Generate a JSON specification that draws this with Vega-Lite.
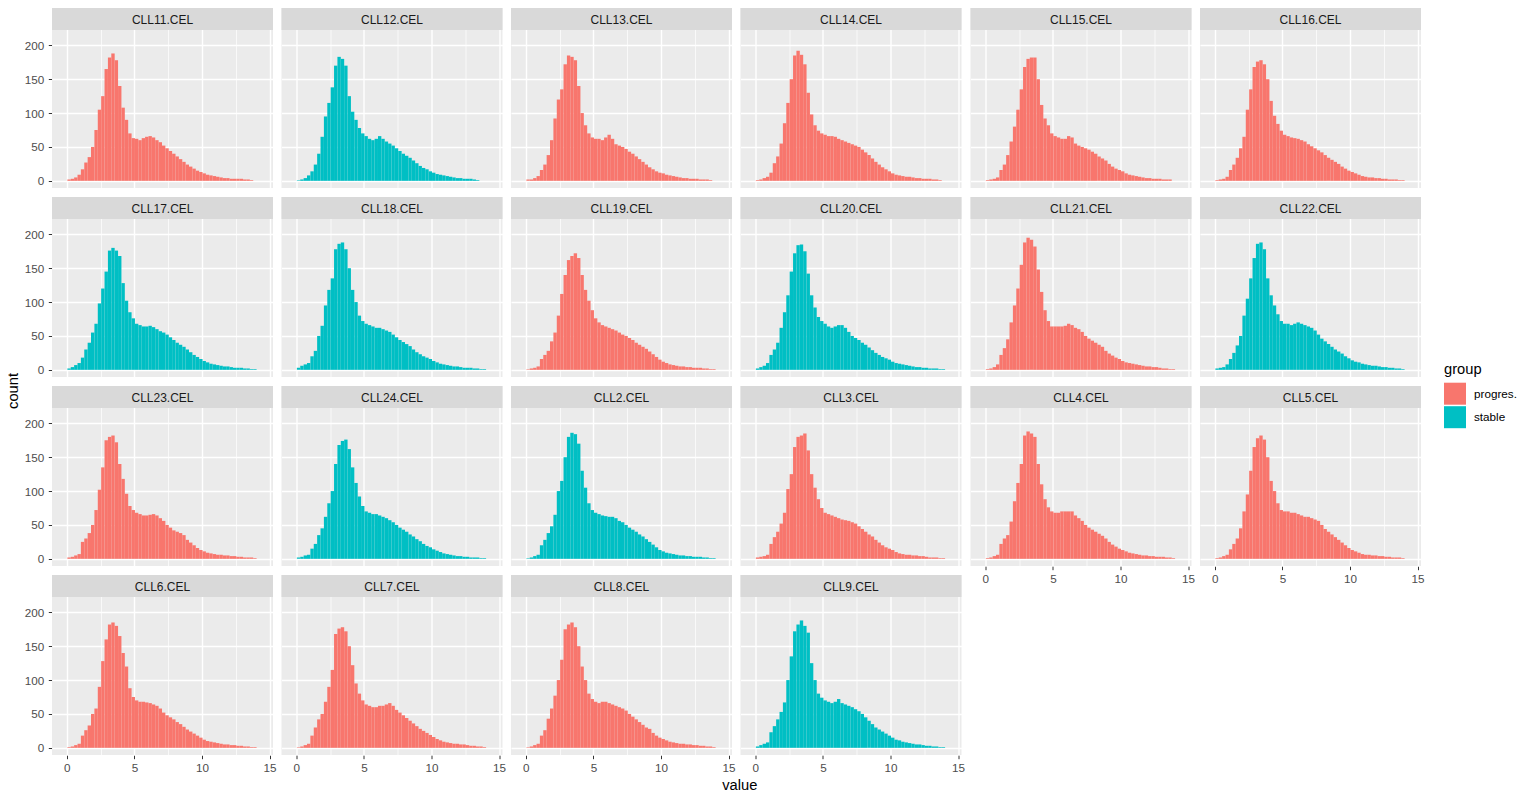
{
"$schema":"https://vega.github.io/schema/vega-lite/v6.json",
"padding":{"left":5,"top":8,"right":0,"bottom":0},
"title":{"text":"value","orient":"bottom","anchor":"middle","fontSize":14.7,"fontWeight":"normal","color":"#000000","font":"Liberation Sans","offset":4,"dx":-21.5},
"datasets":{
"samples":[{"k":11,"s":"CLL11.CEL","g":"progres."},{"k":12,"s":"CLL12.CEL","g":"stable"},{"k":13,"s":"CLL13.CEL","g":"progres."},{"k":14,"s":"CLL14.CEL","g":"progres."},{"k":15,"s":"CLL15.CEL","g":"progres."},{"k":16,"s":"CLL16.CEL","g":"progres."},{"k":17,"s":"CLL17.CEL","g":"stable"},{"k":18,"s":"CLL18.CEL","g":"stable"},{"k":19,"s":"CLL19.CEL","g":"progres."},{"k":20,"s":"CLL20.CEL","g":"stable"},{"k":21,"s":"CLL21.CEL","g":"progres."},{"k":22,"s":"CLL22.CEL","g":"stable"},{"k":23,"s":"CLL23.CEL","g":"progres."},{"k":24,"s":"CLL24.CEL","g":"stable"},{"k":2,"s":"CLL2.CEL","g":"stable"},{"k":3,"s":"CLL3.CEL","g":"progres."},{"k":4,"s":"CLL4.CEL","g":"progres."},{"k":5,"s":"CLL5.CEL","g":"progres."},{"k":6,"s":"CLL6.CEL","g":"progres."},{"k":7,"s":"CLL7.CEL","g":"progres."},{"k":8,"s":"CLL8.CEL","g":"progres."},{"k":9,"s":"CLL9.CEL","g":"stable"}],
"h":[
{"k":11,"x":0,"n":2},{"k":11,"x":0.25,"n":3},{"k":11,"x":0.5,"n":5},{"k":11,"x":0.75,"n":9},{"k":11,"x":1,"n":17},{"k":11,"x":1.25,"n":27},{"k":11,"x":1.5,"n":35},{"k":11,"x":1.75,"n":50},{"k":11,"x":2,"n":75},{"k":11,"x":2.25,"n":105},{"k":11,"x":2.5,"n":125},{"k":11,"x":2.75,"n":165},{"k":11,"x":3,"n":182},{"k":11,"x":3.25,"n":188},{"k":11,"x":3.5,"n":178},{"k":11,"x":3.75,"n":140},{"k":11,"x":4,"n":108},{"k":11,"x":4.25,"n":90},{"k":11,"x":4.5,"n":70},{"k":11,"x":4.75,"n":63},{"k":11,"x":5,"n":62},{"k":11,"x":5.25,"n":60},{"k":11,"x":5.5,"n":63},{"k":11,"x":5.75,"n":65},{"k":11,"x":6,"n":66},{"k":11,"x":6.25,"n":64},{"k":11,"x":6.5,"n":60},{"k":11,"x":6.75,"n":57},{"k":11,"x":7,"n":52},{"k":11,"x":7.25,"n":48},{"k":11,"x":7.5,"n":44},{"k":11,"x":7.75,"n":40},{"k":11,"x":8,"n":36},{"k":11,"x":8.25,"n":32},{"k":11,"x":8.5,"n":28},{"k":11,"x":8.75,"n":24},{"k":11,"x":9,"n":21},{"k":11,"x":9.25,"n":18},{"k":11,"x":9.5,"n":15},{"k":11,"x":9.75,"n":13},{"k":11,"x":10,"n":11},{"k":11,"x":10.25,"n":9},{"k":11,"x":10.5,"n":8},{"k":11,"x":10.75,"n":7},{"k":11,"x":11,"n":6},{"k":11,"x":11.25,"n":5},{"k":11,"x":11.5,"n":4},{"k":11,"x":11.75,"n":4},{"k":11,"x":12,"n":3},{"k":11,"x":12.25,"n":3},{"k":11,"x":12.5,"n":3},{"k":11,"x":12.75,"n":3},{"k":11,"x":13,"n":2},{"k":11,"x":13.25,"n":2},{"k":11,"x":13.5,"n":1},
{"k":12,"x":0,"n":1},{"k":12,"x":0.25,"n":2},{"k":12,"x":0.5,"n":4},{"k":12,"x":0.75,"n":8},{"k":12,"x":1,"n":14},{"k":12,"x":1.25,"n":24},{"k":12,"x":1.5,"n":40},{"k":12,"x":1.75,"n":65},{"k":12,"x":2,"n":95},{"k":12,"x":2.25,"n":115},{"k":12,"x":2.5,"n":138},{"k":12,"x":2.75,"n":170},{"k":12,"x":3,"n":183},{"k":12,"x":3.25,"n":180},{"k":12,"x":3.5,"n":170},{"k":12,"x":3.75,"n":125},{"k":12,"x":4,"n":102},{"k":12,"x":4.25,"n":90},{"k":12,"x":4.5,"n":78},{"k":12,"x":4.75,"n":70},{"k":12,"x":5,"n":66},{"k":12,"x":5.25,"n":62},{"k":12,"x":5.5,"n":60},{"k":12,"x":5.75,"n":62},{"k":12,"x":6,"n":66},{"k":12,"x":6.25,"n":62},{"k":12,"x":6.5,"n":58},{"k":12,"x":6.75,"n":55},{"k":12,"x":7,"n":52},{"k":12,"x":7.25,"n":48},{"k":12,"x":7.5,"n":44},{"k":12,"x":7.75,"n":40},{"k":12,"x":8,"n":37},{"k":12,"x":8.25,"n":34},{"k":12,"x":8.5,"n":30},{"k":12,"x":8.75,"n":26},{"k":12,"x":9,"n":22},{"k":12,"x":9.25,"n":19},{"k":12,"x":9.5,"n":17},{"k":12,"x":9.75,"n":14},{"k":12,"x":10,"n":12},{"k":12,"x":10.25,"n":10},{"k":12,"x":10.5,"n":9},{"k":12,"x":10.75,"n":8},{"k":12,"x":11,"n":7},{"k":12,"x":11.25,"n":6},{"k":12,"x":11.5,"n":5},{"k":12,"x":11.75,"n":4},{"k":12,"x":12,"n":4},{"k":12,"x":12.25,"n":3},{"k":12,"x":12.5,"n":3},{"k":12,"x":12.75,"n":3},{"k":12,"x":13,"n":2},{"k":12,"x":13.25,"n":1},
{"k":13,"x":0,"n":2},{"k":13,"x":0.25,"n":2},{"k":13,"x":0.5,"n":4},{"k":13,"x":0.75,"n":7},{"k":13,"x":1,"n":16},{"k":13,"x":1.25,"n":24},{"k":13,"x":1.5,"n":38},{"k":13,"x":1.75,"n":60},{"k":13,"x":2,"n":92},{"k":13,"x":2.25,"n":120},{"k":13,"x":2.5,"n":135},{"k":13,"x":2.75,"n":172},{"k":13,"x":3,"n":185},{"k":13,"x":3.25,"n":183},{"k":13,"x":3.5,"n":178},{"k":13,"x":3.75,"n":140},{"k":13,"x":4,"n":100},{"k":13,"x":4.25,"n":82},{"k":13,"x":4.5,"n":70},{"k":13,"x":4.75,"n":64},{"k":13,"x":5,"n":62},{"k":13,"x":5.25,"n":62},{"k":13,"x":5.5,"n":60},{"k":13,"x":5.75,"n":64},{"k":13,"x":6,"n":68},{"k":13,"x":6.25,"n":62},{"k":13,"x":6.5,"n":54},{"k":13,"x":6.75,"n":52},{"k":13,"x":7,"n":50},{"k":13,"x":7.25,"n":47},{"k":13,"x":7.5,"n":43},{"k":13,"x":7.75,"n":40},{"k":13,"x":8,"n":36},{"k":13,"x":8.25,"n":32},{"k":13,"x":8.5,"n":28},{"k":13,"x":8.75,"n":24},{"k":13,"x":9,"n":20},{"k":13,"x":9.25,"n":17},{"k":13,"x":9.5,"n":14},{"k":13,"x":9.75,"n":12},{"k":13,"x":10,"n":11},{"k":13,"x":10.25,"n":9},{"k":13,"x":10.5,"n":8},{"k":13,"x":10.75,"n":7},{"k":13,"x":11,"n":6},{"k":13,"x":11.25,"n":5},{"k":13,"x":11.5,"n":4},{"k":13,"x":11.75,"n":4},{"k":13,"x":12,"n":3},{"k":13,"x":12.25,"n":3},{"k":13,"x":12.5,"n":3},{"k":13,"x":12.75,"n":2},{"k":13,"x":13,"n":2},{"k":13,"x":13.25,"n":2},{"k":13,"x":13.5,"n":1},
{"k":14,"x":0,"n":1},{"k":14,"x":0.25,"n":2},{"k":14,"x":0.5,"n":4},{"k":14,"x":0.75,"n":6},{"k":14,"x":1,"n":12},{"k":14,"x":1.25,"n":26},{"k":14,"x":1.5,"n":36},{"k":14,"x":1.75,"n":55},{"k":14,"x":2,"n":85},{"k":14,"x":2.25,"n":115},{"k":14,"x":2.5,"n":150},{"k":14,"x":2.75,"n":185},{"k":14,"x":3,"n":192},{"k":14,"x":3.25,"n":186},{"k":14,"x":3.5,"n":172},{"k":14,"x":3.75,"n":130},{"k":14,"x":4,"n":98},{"k":14,"x":4.25,"n":82},{"k":14,"x":4.5,"n":74},{"k":14,"x":4.75,"n":70},{"k":14,"x":5,"n":68},{"k":14,"x":5.25,"n":66},{"k":14,"x":5.5,"n":66},{"k":14,"x":5.75,"n":65},{"k":14,"x":6,"n":62},{"k":14,"x":6.25,"n":60},{"k":14,"x":6.5,"n":58},{"k":14,"x":6.75,"n":56},{"k":14,"x":7,"n":54},{"k":14,"x":7.25,"n":52},{"k":14,"x":7.5,"n":50},{"k":14,"x":7.75,"n":46},{"k":14,"x":8,"n":42},{"k":14,"x":8.25,"n":38},{"k":14,"x":8.5,"n":33},{"k":14,"x":8.75,"n":28},{"k":14,"x":9,"n":24},{"k":14,"x":9.25,"n":20},{"k":14,"x":9.5,"n":17},{"k":14,"x":9.75,"n":14},{"k":14,"x":10,"n":11},{"k":14,"x":10.25,"n":9},{"k":14,"x":10.5,"n":8},{"k":14,"x":10.75,"n":7},{"k":14,"x":11,"n":6},{"k":14,"x":11.25,"n":6},{"k":14,"x":11.5,"n":5},{"k":14,"x":11.75,"n":4},{"k":14,"x":12,"n":4},{"k":14,"x":12.25,"n":3},{"k":14,"x":12.5,"n":3},{"k":14,"x":12.75,"n":3},{"k":14,"x":13,"n":2},{"k":14,"x":13.25,"n":2},{"k":14,"x":13.5,"n":1},
{"k":15,"x":0,"n":1},{"k":15,"x":0.25,"n":2},{"k":15,"x":0.5,"n":3},{"k":15,"x":0.75,"n":5},{"k":15,"x":1,"n":16},{"k":15,"x":1.25,"n":24},{"k":15,"x":1.5,"n":38},{"k":15,"x":1.75,"n":58},{"k":15,"x":2,"n":80},{"k":15,"x":2.25,"n":105},{"k":15,"x":2.5,"n":135},{"k":15,"x":2.75,"n":168},{"k":15,"x":3,"n":180},{"k":15,"x":3.25,"n":182},{"k":15,"x":3.5,"n":182},{"k":15,"x":3.75,"n":150},{"k":15,"x":4,"n":112},{"k":15,"x":4.25,"n":92},{"k":15,"x":4.5,"n":82},{"k":15,"x":4.75,"n":70},{"k":15,"x":5,"n":66},{"k":15,"x":5.25,"n":64},{"k":15,"x":5.5,"n":62},{"k":15,"x":5.75,"n":62},{"k":15,"x":6,"n":66},{"k":15,"x":6.25,"n":64},{"k":15,"x":6.5,"n":55},{"k":15,"x":6.75,"n":52},{"k":15,"x":7,"n":50},{"k":15,"x":7.25,"n":48},{"k":15,"x":7.5,"n":46},{"k":15,"x":7.75,"n":43},{"k":15,"x":8,"n":40},{"k":15,"x":8.25,"n":36},{"k":15,"x":8.5,"n":33},{"k":15,"x":8.75,"n":30},{"k":15,"x":9,"n":25},{"k":15,"x":9.25,"n":21},{"k":15,"x":9.5,"n":18},{"k":15,"x":9.75,"n":16},{"k":15,"x":10,"n":14},{"k":15,"x":10.25,"n":11},{"k":15,"x":10.5,"n":9},{"k":15,"x":10.75,"n":8},{"k":15,"x":11,"n":7},{"k":15,"x":11.25,"n":6},{"k":15,"x":11.5,"n":5},{"k":15,"x":11.75,"n":4},{"k":15,"x":12,"n":4},{"k":15,"x":12.25,"n":3},{"k":15,"x":12.5,"n":3},{"k":15,"x":12.75,"n":3},{"k":15,"x":13,"n":2},{"k":15,"x":13.25,"n":2},{"k":15,"x":13.5,"n":2},
{"k":16,"x":0,"n":1},{"k":16,"x":0.25,"n":2},{"k":16,"x":0.5,"n":3},{"k":16,"x":0.75,"n":6},{"k":16,"x":1,"n":16},{"k":16,"x":1.25,"n":24},{"k":16,"x":1.5,"n":34},{"k":16,"x":1.75,"n":48},{"k":16,"x":2,"n":65},{"k":16,"x":2.25,"n":105},{"k":16,"x":2.5,"n":135},{"k":16,"x":2.75,"n":168},{"k":16,"x":3,"n":176},{"k":16,"x":3.25,"n":178},{"k":16,"x":3.5,"n":172},{"k":16,"x":3.75,"n":150},{"k":16,"x":4,"n":118},{"k":16,"x":4.25,"n":96},{"k":16,"x":4.5,"n":84},{"k":16,"x":4.75,"n":74},{"k":16,"x":5,"n":68},{"k":16,"x":5.25,"n":66},{"k":16,"x":5.5,"n":64},{"k":16,"x":5.75,"n":63},{"k":16,"x":6,"n":62},{"k":16,"x":6.25,"n":60},{"k":16,"x":6.5,"n":58},{"k":16,"x":6.75,"n":54},{"k":16,"x":7,"n":51},{"k":16,"x":7.25,"n":48},{"k":16,"x":7.5,"n":45},{"k":16,"x":7.75,"n":42},{"k":16,"x":8,"n":38},{"k":16,"x":8.25,"n":34},{"k":16,"x":8.5,"n":31},{"k":16,"x":8.75,"n":28},{"k":16,"x":9,"n":25},{"k":16,"x":9.25,"n":21},{"k":16,"x":9.5,"n":18},{"k":16,"x":9.75,"n":15},{"k":16,"x":10,"n":13},{"k":16,"x":10.25,"n":11},{"k":16,"x":10.5,"n":9},{"k":16,"x":10.75,"n":7},{"k":16,"x":11,"n":6},{"k":16,"x":11.25,"n":5},{"k":16,"x":11.5,"n":5},{"k":16,"x":11.75,"n":4},{"k":16,"x":12,"n":4},{"k":16,"x":12.25,"n":3},{"k":16,"x":12.5,"n":3},{"k":16,"x":12.75,"n":2},{"k":16,"x":13,"n":2},{"k":16,"x":13.25,"n":2},{"k":16,"x":13.5,"n":1},{"k":16,"x":13.75,"n":1},
{"k":17,"x":0,"n":2},{"k":17,"x":0.25,"n":4},{"k":17,"x":0.5,"n":7},{"k":17,"x":0.75,"n":10},{"k":17,"x":1,"n":18},{"k":17,"x":1.25,"n":30},{"k":17,"x":1.5,"n":40},{"k":17,"x":1.75,"n":55},{"k":17,"x":2,"n":68},{"k":17,"x":2.25,"n":98},{"k":17,"x":2.5,"n":120},{"k":17,"x":2.75,"n":145},{"k":17,"x":3,"n":176},{"k":17,"x":3.25,"n":180},{"k":17,"x":3.5,"n":176},{"k":17,"x":3.75,"n":168},{"k":17,"x":4,"n":128},{"k":17,"x":4.25,"n":102},{"k":17,"x":4.5,"n":85},{"k":17,"x":4.75,"n":76},{"k":17,"x":5,"n":68},{"k":17,"x":5.25,"n":66},{"k":17,"x":5.5,"n":64},{"k":17,"x":5.75,"n":64},{"k":17,"x":6,"n":65},{"k":17,"x":6.25,"n":63},{"k":17,"x":6.5,"n":60},{"k":17,"x":6.75,"n":57},{"k":17,"x":7,"n":55},{"k":17,"x":7.25,"n":52},{"k":17,"x":7.5,"n":48},{"k":17,"x":7.75,"n":44},{"k":17,"x":8,"n":40},{"k":17,"x":8.25,"n":37},{"k":17,"x":8.5,"n":34},{"k":17,"x":8.75,"n":30},{"k":17,"x":9,"n":26},{"k":17,"x":9.25,"n":22},{"k":17,"x":9.5,"n":19},{"k":17,"x":9.75,"n":16},{"k":17,"x":10,"n":13},{"k":17,"x":10.25,"n":11},{"k":17,"x":10.5,"n":9},{"k":17,"x":10.75,"n":8},{"k":17,"x":11,"n":7},{"k":17,"x":11.25,"n":6},{"k":17,"x":11.5,"n":5},{"k":17,"x":11.75,"n":5},{"k":17,"x":12,"n":4},{"k":17,"x":12.25,"n":3},{"k":17,"x":12.5,"n":3},{"k":17,"x":12.75,"n":3},{"k":17,"x":13,"n":2},{"k":17,"x":13.25,"n":2},{"k":17,"x":13.5,"n":1},{"k":17,"x":13.75,"n":1},
{"k":18,"x":0,"n":3},{"k":18,"x":0.25,"n":6},{"k":18,"x":0.5,"n":8},{"k":18,"x":0.75,"n":10},{"k":18,"x":1,"n":20},{"k":18,"x":1.25,"n":28},{"k":18,"x":1.5,"n":50},{"k":18,"x":1.75,"n":65},{"k":18,"x":2,"n":95},{"k":18,"x":2.25,"n":118},{"k":18,"x":2.5,"n":135},{"k":18,"x":2.75,"n":178},{"k":18,"x":3,"n":186},{"k":18,"x":3.25,"n":188},{"k":18,"x":3.5,"n":178},{"k":18,"x":3.75,"n":150},{"k":18,"x":4,"n":118},{"k":18,"x":4.25,"n":100},{"k":18,"x":4.5,"n":80},{"k":18,"x":4.75,"n":72},{"k":18,"x":5,"n":68},{"k":18,"x":5.25,"n":66},{"k":18,"x":5.5,"n":64},{"k":18,"x":5.75,"n":62},{"k":18,"x":6,"n":62},{"k":18,"x":6.25,"n":60},{"k":18,"x":6.5,"n":58},{"k":18,"x":6.75,"n":56},{"k":18,"x":7,"n":52},{"k":18,"x":7.25,"n":48},{"k":18,"x":7.5,"n":44},{"k":18,"x":7.75,"n":41},{"k":18,"x":8,"n":38},{"k":18,"x":8.25,"n":35},{"k":18,"x":8.5,"n":30},{"k":18,"x":8.75,"n":26},{"k":18,"x":9,"n":23},{"k":18,"x":9.25,"n":20},{"k":18,"x":9.5,"n":18},{"k":18,"x":9.75,"n":16},{"k":18,"x":10,"n":13},{"k":18,"x":10.25,"n":11},{"k":18,"x":10.5,"n":9},{"k":18,"x":10.75,"n":8},{"k":18,"x":11,"n":7},{"k":18,"x":11.25,"n":6},{"k":18,"x":11.5,"n":5},{"k":18,"x":11.75,"n":5},{"k":18,"x":12,"n":4},{"k":18,"x":12.25,"n":3},{"k":18,"x":12.5,"n":3},{"k":18,"x":12.75,"n":3},{"k":18,"x":13,"n":2},{"k":18,"x":13.25,"n":2},{"k":18,"x":13.5,"n":1},{"k":18,"x":13.75,"n":1},
{"k":19,"x":0,"n":1},{"k":19,"x":0.25,"n":2},{"k":19,"x":0.5,"n":3},{"k":19,"x":0.75,"n":5},{"k":19,"x":1,"n":16},{"k":19,"x":1.25,"n":22},{"k":19,"x":1.5,"n":28},{"k":19,"x":1.75,"n":42},{"k":19,"x":2,"n":55},{"k":19,"x":2.25,"n":80},{"k":19,"x":2.5,"n":112},{"k":19,"x":2.75,"n":140},{"k":19,"x":3,"n":162},{"k":19,"x":3.25,"n":168},{"k":19,"x":3.5,"n":172},{"k":19,"x":3.75,"n":165},{"k":19,"x":4,"n":140},{"k":19,"x":4.25,"n":118},{"k":19,"x":4.5,"n":102},{"k":19,"x":4.75,"n":88},{"k":19,"x":5,"n":76},{"k":19,"x":5.25,"n":70},{"k":19,"x":5.5,"n":66},{"k":19,"x":5.75,"n":64},{"k":19,"x":6,"n":62},{"k":19,"x":6.25,"n":60},{"k":19,"x":6.5,"n":58},{"k":19,"x":6.75,"n":55},{"k":19,"x":7,"n":52},{"k":19,"x":7.25,"n":50},{"k":19,"x":7.5,"n":47},{"k":19,"x":7.75,"n":44},{"k":19,"x":8,"n":40},{"k":19,"x":8.25,"n":37},{"k":19,"x":8.5,"n":34},{"k":19,"x":8.75,"n":31},{"k":19,"x":9,"n":27},{"k":19,"x":9.25,"n":23},{"k":19,"x":9.5,"n":19},{"k":19,"x":9.75,"n":15},{"k":19,"x":10,"n":12},{"k":19,"x":10.25,"n":10},{"k":19,"x":10.5,"n":8},{"k":19,"x":10.75,"n":7},{"k":19,"x":11,"n":6},{"k":19,"x":11.25,"n":5},{"k":19,"x":11.5,"n":5},{"k":19,"x":11.75,"n":4},{"k":19,"x":12,"n":4},{"k":19,"x":12.25,"n":3},{"k":19,"x":12.5,"n":3},{"k":19,"x":12.75,"n":3},{"k":19,"x":13,"n":2},{"k":19,"x":13.25,"n":2},{"k":19,"x":13.5,"n":1},{"k":19,"x":13.75,"n":1},
{"k":20,"x":0,"n":2},{"k":20,"x":0.25,"n":4},{"k":20,"x":0.5,"n":6},{"k":20,"x":0.75,"n":10},{"k":20,"x":1,"n":22},{"k":20,"x":1.25,"n":30},{"k":20,"x":1.5,"n":40},{"k":20,"x":1.75,"n":62},{"k":20,"x":2,"n":85},{"k":20,"x":2.25,"n":110},{"k":20,"x":2.5,"n":145},{"k":20,"x":2.75,"n":172},{"k":20,"x":3,"n":184},{"k":20,"x":3.25,"n":185},{"k":20,"x":3.5,"n":175},{"k":20,"x":3.75,"n":142},{"k":20,"x":4,"n":110},{"k":20,"x":4.25,"n":92},{"k":20,"x":4.5,"n":78},{"k":20,"x":4.75,"n":72},{"k":20,"x":5,"n":68},{"k":20,"x":5.25,"n":64},{"k":20,"x":5.5,"n":62},{"k":20,"x":5.75,"n":64},{"k":20,"x":6,"n":66},{"k":20,"x":6.25,"n":66},{"k":20,"x":6.5,"n":62},{"k":20,"x":6.75,"n":56},{"k":20,"x":7,"n":50},{"k":20,"x":7.25,"n":47},{"k":20,"x":7.5,"n":44},{"k":20,"x":7.75,"n":40},{"k":20,"x":8,"n":37},{"k":20,"x":8.25,"n":33},{"k":20,"x":8.5,"n":29},{"k":20,"x":8.75,"n":25},{"k":20,"x":9,"n":22},{"k":20,"x":9.25,"n":19},{"k":20,"x":9.5,"n":17},{"k":20,"x":9.75,"n":15},{"k":20,"x":10,"n":12},{"k":20,"x":10.25,"n":10},{"k":20,"x":10.5,"n":9},{"k":20,"x":10.75,"n":8},{"k":20,"x":11,"n":7},{"k":20,"x":11.25,"n":6},{"k":20,"x":11.5,"n":5},{"k":20,"x":11.75,"n":4},{"k":20,"x":12,"n":4},{"k":20,"x":12.25,"n":3},{"k":20,"x":12.5,"n":3},{"k":20,"x":12.75,"n":2},{"k":20,"x":13,"n":2},{"k":20,"x":13.25,"n":2},{"k":20,"x":13.5,"n":1},{"k":20,"x":13.75,"n":1},
{"k":21,"x":0,"n":1},{"k":21,"x":0.25,"n":2},{"k":21,"x":0.5,"n":4},{"k":21,"x":0.75,"n":8},{"k":21,"x":1,"n":22},{"k":21,"x":1.25,"n":32},{"k":21,"x":1.5,"n":45},{"k":21,"x":1.75,"n":70},{"k":21,"x":2,"n":95},{"k":21,"x":2.25,"n":120},{"k":21,"x":2.5,"n":155},{"k":21,"x":2.75,"n":188},{"k":21,"x":3,"n":195},{"k":21,"x":3.25,"n":192},{"k":21,"x":3.5,"n":182},{"k":21,"x":3.75,"n":148},{"k":21,"x":4,"n":115},{"k":21,"x":4.25,"n":88},{"k":21,"x":4.5,"n":72},{"k":21,"x":4.75,"n":64},{"k":21,"x":5,"n":64},{"k":21,"x":5.25,"n":64},{"k":21,"x":5.5,"n":64},{"k":21,"x":5.75,"n":65},{"k":21,"x":6,"n":68},{"k":21,"x":6.25,"n":66},{"k":21,"x":6.5,"n":62},{"k":21,"x":6.75,"n":60},{"k":21,"x":7,"n":56},{"k":21,"x":7.25,"n":50},{"k":21,"x":7.5,"n":46},{"k":21,"x":7.75,"n":43},{"k":21,"x":8,"n":40},{"k":21,"x":8.25,"n":37},{"k":21,"x":8.5,"n":34},{"k":21,"x":8.75,"n":28},{"k":21,"x":9,"n":24},{"k":21,"x":9.25,"n":21},{"k":21,"x":9.5,"n":18},{"k":21,"x":9.75,"n":16},{"k":21,"x":10,"n":13},{"k":21,"x":10.25,"n":11},{"k":21,"x":10.5,"n":10},{"k":21,"x":10.75,"n":9},{"k":21,"x":11,"n":8},{"k":21,"x":11.25,"n":7},{"k":21,"x":11.5,"n":6},{"k":21,"x":11.75,"n":5},{"k":21,"x":12,"n":5},{"k":21,"x":12.25,"n":4},{"k":21,"x":12.5,"n":4},{"k":21,"x":12.75,"n":3},{"k":21,"x":13,"n":2},{"k":21,"x":13.25,"n":2},{"k":21,"x":13.5,"n":1},{"k":21,"x":13.75,"n":1},
{"k":22,"x":0,"n":2},{"k":22,"x":0.25,"n":3},{"k":22,"x":0.5,"n":4},{"k":22,"x":0.75,"n":8},{"k":22,"x":1,"n":16},{"k":22,"x":1.25,"n":25},{"k":22,"x":1.5,"n":36},{"k":22,"x":1.75,"n":50},{"k":22,"x":2,"n":80},{"k":22,"x":2.25,"n":105},{"k":22,"x":2.5,"n":135},{"k":22,"x":2.75,"n":165},{"k":22,"x":3,"n":186},{"k":22,"x":3.25,"n":188},{"k":22,"x":3.5,"n":178},{"k":22,"x":3.75,"n":135},{"k":22,"x":4,"n":110},{"k":22,"x":4.25,"n":95},{"k":22,"x":4.5,"n":82},{"k":22,"x":4.75,"n":72},{"k":22,"x":5,"n":68},{"k":22,"x":5.25,"n":68},{"k":22,"x":5.5,"n":66},{"k":22,"x":5.75,"n":68},{"k":22,"x":6,"n":70},{"k":22,"x":6.25,"n":68},{"k":22,"x":6.5,"n":66},{"k":22,"x":6.75,"n":64},{"k":22,"x":7,"n":62},{"k":22,"x":7.25,"n":58},{"k":22,"x":7.5,"n":52},{"k":22,"x":7.75,"n":46},{"k":22,"x":8,"n":42},{"k":22,"x":8.25,"n":38},{"k":22,"x":8.5,"n":34},{"k":22,"x":8.75,"n":30},{"k":22,"x":9,"n":27},{"k":22,"x":9.25,"n":24},{"k":22,"x":9.5,"n":20},{"k":22,"x":9.75,"n":17},{"k":22,"x":10,"n":14},{"k":22,"x":10.25,"n":12},{"k":22,"x":10.5,"n":11},{"k":22,"x":10.75,"n":9},{"k":22,"x":11,"n":8},{"k":22,"x":11.25,"n":7},{"k":22,"x":11.5,"n":6},{"k":22,"x":11.75,"n":6},{"k":22,"x":12,"n":5},{"k":22,"x":12.25,"n":4},{"k":22,"x":12.5,"n":4},{"k":22,"x":12.75,"n":3},{"k":22,"x":13,"n":3},{"k":22,"x":13.25,"n":2},{"k":22,"x":13.5,"n":2},{"k":22,"x":13.75,"n":1},
{"k":23,"x":0,"n":2},{"k":23,"x":0.25,"n":3},{"k":23,"x":0.5,"n":5},{"k":23,"x":0.75,"n":7},{"k":23,"x":1,"n":25},{"k":23,"x":1.25,"n":30},{"k":23,"x":1.5,"n":38},{"k":23,"x":1.75,"n":50},{"k":23,"x":2,"n":72},{"k":23,"x":2.25,"n":102},{"k":23,"x":2.5,"n":135},{"k":23,"x":2.75,"n":175},{"k":23,"x":3,"n":180},{"k":23,"x":3.25,"n":182},{"k":23,"x":3.5,"n":172},{"k":23,"x":3.75,"n":140},{"k":23,"x":4,"n":118},{"k":23,"x":4.25,"n":96},{"k":23,"x":4.5,"n":78},{"k":23,"x":4.75,"n":72},{"k":23,"x":5,"n":68},{"k":23,"x":5.25,"n":66},{"k":23,"x":5.5,"n":64},{"k":23,"x":5.75,"n":64},{"k":23,"x":6,"n":65},{"k":23,"x":6.25,"n":66},{"k":23,"x":6.5,"n":64},{"k":23,"x":6.75,"n":60},{"k":23,"x":7,"n":56},{"k":23,"x":7.25,"n":50},{"k":23,"x":7.5,"n":46},{"k":23,"x":7.75,"n":42},{"k":23,"x":8,"n":40},{"k":23,"x":8.25,"n":38},{"k":23,"x":8.5,"n":35},{"k":23,"x":8.75,"n":28},{"k":23,"x":9,"n":24},{"k":23,"x":9.25,"n":20},{"k":23,"x":9.5,"n":16},{"k":23,"x":9.75,"n":13},{"k":23,"x":10,"n":11},{"k":23,"x":10.25,"n":9},{"k":23,"x":10.5,"n":8},{"k":23,"x":10.75,"n":7},{"k":23,"x":11,"n":6},{"k":23,"x":11.25,"n":6},{"k":23,"x":11.5,"n":5},{"k":23,"x":11.75,"n":5},{"k":23,"x":12,"n":4},{"k":23,"x":12.25,"n":4},{"k":23,"x":12.5,"n":3},{"k":23,"x":12.75,"n":3},{"k":23,"x":13,"n":2},{"k":23,"x":13.25,"n":2},{"k":23,"x":13.5,"n":2},{"k":23,"x":13.75,"n":1},
{"k":24,"x":0,"n":2},{"k":24,"x":0.25,"n":3},{"k":24,"x":0.5,"n":5},{"k":24,"x":0.75,"n":6},{"k":24,"x":1,"n":15},{"k":24,"x":1.25,"n":22},{"k":24,"x":1.5,"n":35},{"k":24,"x":1.75,"n":45},{"k":24,"x":2,"n":62},{"k":24,"x":2.25,"n":82},{"k":24,"x":2.5,"n":100},{"k":24,"x":2.75,"n":140},{"k":24,"x":3,"n":168},{"k":24,"x":3.25,"n":174},{"k":24,"x":3.5,"n":176},{"k":24,"x":3.75,"n":162},{"k":24,"x":4,"n":135},{"k":24,"x":4.25,"n":112},{"k":24,"x":4.5,"n":92},{"k":24,"x":4.75,"n":78},{"k":24,"x":5,"n":70},{"k":24,"x":5.25,"n":68},{"k":24,"x":5.5,"n":66},{"k":24,"x":5.75,"n":66},{"k":24,"x":6,"n":64},{"k":24,"x":6.25,"n":62},{"k":24,"x":6.5,"n":60},{"k":24,"x":6.75,"n":57},{"k":24,"x":7,"n":54},{"k":24,"x":7.25,"n":50},{"k":24,"x":7.5,"n":46},{"k":24,"x":7.75,"n":43},{"k":24,"x":8,"n":40},{"k":24,"x":8.25,"n":36},{"k":24,"x":8.5,"n":33},{"k":24,"x":8.75,"n":29},{"k":24,"x":9,"n":26},{"k":24,"x":9.25,"n":22},{"k":24,"x":9.5,"n":19},{"k":24,"x":9.75,"n":17},{"k":24,"x":10,"n":14},{"k":24,"x":10.25,"n":12},{"k":24,"x":10.5,"n":10},{"k":24,"x":10.75,"n":8},{"k":24,"x":11,"n":7},{"k":24,"x":11.25,"n":6},{"k":24,"x":11.5,"n":5},{"k":24,"x":11.75,"n":4},{"k":24,"x":12,"n":4},{"k":24,"x":12.25,"n":3},{"k":24,"x":12.5,"n":3},{"k":24,"x":12.75,"n":2},{"k":24,"x":13,"n":2},{"k":24,"x":13.25,"n":2},{"k":24,"x":13.5,"n":1},{"k":24,"x":13.75,"n":1},
{"k":2,"x":0,"n":1},{"k":2,"x":0.25,"n":2},{"k":2,"x":0.5,"n":4},{"k":2,"x":0.75,"n":6},{"k":2,"x":1,"n":20},{"k":2,"x":1.25,"n":28},{"k":2,"x":1.5,"n":38},{"k":2,"x":1.75,"n":48},{"k":2,"x":2,"n":65},{"k":2,"x":2.25,"n":100},{"k":2,"x":2.5,"n":115},{"k":2,"x":2.75,"n":150},{"k":2,"x":3,"n":180},{"k":2,"x":3.25,"n":186},{"k":2,"x":3.5,"n":184},{"k":2,"x":3.75,"n":170},{"k":2,"x":4,"n":130},{"k":2,"x":4.25,"n":105},{"k":2,"x":4.5,"n":82},{"k":2,"x":4.75,"n":72},{"k":2,"x":5,"n":68},{"k":2,"x":5.25,"n":66},{"k":2,"x":5.5,"n":64},{"k":2,"x":5.75,"n":63},{"k":2,"x":6,"n":62},{"k":2,"x":6.25,"n":62},{"k":2,"x":6.5,"n":60},{"k":2,"x":6.75,"n":56},{"k":2,"x":7,"n":54},{"k":2,"x":7.25,"n":50},{"k":2,"x":7.5,"n":46},{"k":2,"x":7.75,"n":43},{"k":2,"x":8,"n":40},{"k":2,"x":8.25,"n":36},{"k":2,"x":8.5,"n":33},{"k":2,"x":8.75,"n":29},{"k":2,"x":9,"n":25},{"k":2,"x":9.25,"n":21},{"k":2,"x":9.5,"n":17},{"k":2,"x":9.75,"n":13},{"k":2,"x":10,"n":11},{"k":2,"x":10.25,"n":9},{"k":2,"x":10.5,"n":8},{"k":2,"x":10.75,"n":7},{"k":2,"x":11,"n":6},{"k":2,"x":11.25,"n":5},{"k":2,"x":11.5,"n":5},{"k":2,"x":11.75,"n":4},{"k":2,"x":12,"n":4},{"k":2,"x":12.25,"n":3},{"k":2,"x":12.5,"n":3},{"k":2,"x":12.75,"n":3},{"k":2,"x":13,"n":2},{"k":2,"x":13.25,"n":2},{"k":2,"x":13.5,"n":1},{"k":2,"x":13.75,"n":1},
{"k":3,"x":0,"n":2},{"k":3,"x":0.25,"n":3},{"k":3,"x":0.5,"n":4},{"k":3,"x":0.75,"n":6},{"k":3,"x":1,"n":22},{"k":3,"x":1.25,"n":32},{"k":3,"x":1.5,"n":40},{"k":3,"x":1.75,"n":52},{"k":3,"x":2,"n":68},{"k":3,"x":2.25,"n":103},{"k":3,"x":2.5,"n":125},{"k":3,"x":2.75,"n":165},{"k":3,"x":3,"n":180},{"k":3,"x":3.25,"n":182},{"k":3,"x":3.5,"n":185},{"k":3,"x":3.75,"n":160},{"k":3,"x":4,"n":125},{"k":3,"x":4.25,"n":105},{"k":3,"x":4.5,"n":88},{"k":3,"x":4.75,"n":75},{"k":3,"x":5,"n":68},{"k":3,"x":5.25,"n":66},{"k":3,"x":5.5,"n":64},{"k":3,"x":5.75,"n":62},{"k":3,"x":6,"n":60},{"k":3,"x":6.25,"n":58},{"k":3,"x":6.5,"n":57},{"k":3,"x":6.75,"n":56},{"k":3,"x":7,"n":54},{"k":3,"x":7.25,"n":52},{"k":3,"x":7.5,"n":48},{"k":3,"x":7.75,"n":44},{"k":3,"x":8,"n":40},{"k":3,"x":8.25,"n":36},{"k":3,"x":8.5,"n":33},{"k":3,"x":8.75,"n":28},{"k":3,"x":9,"n":24},{"k":3,"x":9.25,"n":20},{"k":3,"x":9.5,"n":17},{"k":3,"x":9.75,"n":15},{"k":3,"x":10,"n":13},{"k":3,"x":10.25,"n":10},{"k":3,"x":10.5,"n":8},{"k":3,"x":10.75,"n":7},{"k":3,"x":11,"n":6},{"k":3,"x":11.25,"n":6},{"k":3,"x":11.5,"n":5},{"k":3,"x":11.75,"n":5},{"k":3,"x":12,"n":4},{"k":3,"x":12.25,"n":4},{"k":3,"x":12.5,"n":3},{"k":3,"x":12.75,"n":2},{"k":3,"x":13,"n":2},{"k":3,"x":13.25,"n":2},{"k":3,"x":13.5,"n":1},{"k":3,"x":13.75,"n":1},
{"k":4,"x":0,"n":1},{"k":4,"x":0.25,"n":2},{"k":4,"x":0.5,"n":4},{"k":4,"x":0.75,"n":6},{"k":4,"x":1,"n":22},{"k":4,"x":1.25,"n":30},{"k":4,"x":1.5,"n":35},{"k":4,"x":1.75,"n":55},{"k":4,"x":2,"n":85},{"k":4,"x":2.25,"n":112},{"k":4,"x":2.5,"n":140},{"k":4,"x":2.75,"n":182},{"k":4,"x":3,"n":188},{"k":4,"x":3.25,"n":185},{"k":4,"x":3.5,"n":180},{"k":4,"x":3.75,"n":140},{"k":4,"x":4,"n":110},{"k":4,"x":4.25,"n":88},{"k":4,"x":4.5,"n":76},{"k":4,"x":4.75,"n":70},{"k":4,"x":5,"n":68},{"k":4,"x":5.25,"n":68},{"k":4,"x":5.5,"n":70},{"k":4,"x":5.75,"n":70},{"k":4,"x":6,"n":70},{"k":4,"x":6.25,"n":70},{"k":4,"x":6.5,"n":64},{"k":4,"x":6.75,"n":60},{"k":4,"x":7,"n":56},{"k":4,"x":7.25,"n":50},{"k":4,"x":7.5,"n":46},{"k":4,"x":7.75,"n":43},{"k":4,"x":8,"n":40},{"k":4,"x":8.25,"n":37},{"k":4,"x":8.5,"n":34},{"k":4,"x":8.75,"n":30},{"k":4,"x":9,"n":25},{"k":4,"x":9.25,"n":21},{"k":4,"x":9.5,"n":18},{"k":4,"x":9.75,"n":15},{"k":4,"x":10,"n":13},{"k":4,"x":10.25,"n":11},{"k":4,"x":10.5,"n":9},{"k":4,"x":10.75,"n":8},{"k":4,"x":11,"n":7},{"k":4,"x":11.25,"n":6},{"k":4,"x":11.5,"n":5},{"k":4,"x":11.75,"n":5},{"k":4,"x":12,"n":4},{"k":4,"x":12.25,"n":4},{"k":4,"x":12.5,"n":3},{"k":4,"x":12.75,"n":3},{"k":4,"x":13,"n":3},{"k":4,"x":13.25,"n":2},{"k":4,"x":13.5,"n":2},{"k":4,"x":13.75,"n":1},
{"k":5,"x":0,"n":1},{"k":5,"x":0.25,"n":2},{"k":5,"x":0.5,"n":4},{"k":5,"x":0.75,"n":6},{"k":5,"x":1,"n":14},{"k":5,"x":1.25,"n":22},{"k":5,"x":1.5,"n":30},{"k":5,"x":1.75,"n":45},{"k":5,"x":2,"n":70},{"k":5,"x":2.25,"n":95},{"k":5,"x":2.5,"n":130},{"k":5,"x":2.75,"n":165},{"k":5,"x":3,"n":178},{"k":5,"x":3.25,"n":182},{"k":5,"x":3.5,"n":176},{"k":5,"x":3.75,"n":150},{"k":5,"x":4,"n":115},{"k":5,"x":4.25,"n":100},{"k":5,"x":4.5,"n":82},{"k":5,"x":4.75,"n":72},{"k":5,"x":5,"n":70},{"k":5,"x":5.25,"n":70},{"k":5,"x":5.5,"n":68},{"k":5,"x":5.75,"n":68},{"k":5,"x":6,"n":66},{"k":5,"x":6.25,"n":64},{"k":5,"x":6.5,"n":62},{"k":5,"x":6.75,"n":62},{"k":5,"x":7,"n":60},{"k":5,"x":7.25,"n":58},{"k":5,"x":7.5,"n":56},{"k":5,"x":7.75,"n":50},{"k":5,"x":8,"n":44},{"k":5,"x":8.25,"n":40},{"k":5,"x":8.5,"n":36},{"k":5,"x":8.75,"n":32},{"k":5,"x":9,"n":28},{"k":5,"x":9.25,"n":24},{"k":5,"x":9.5,"n":20},{"k":5,"x":9.75,"n":16},{"k":5,"x":10,"n":13},{"k":5,"x":10.25,"n":11},{"k":5,"x":10.5,"n":9},{"k":5,"x":10.75,"n":7},{"k":5,"x":11,"n":6},{"k":5,"x":11.25,"n":6},{"k":5,"x":11.5,"n":5},{"k":5,"x":11.75,"n":5},{"k":5,"x":12,"n":4},{"k":5,"x":12.25,"n":4},{"k":5,"x":12.5,"n":3},{"k":5,"x":12.75,"n":3},{"k":5,"x":13,"n":2},{"k":5,"x":13.25,"n":2},{"k":5,"x":13.5,"n":2},{"k":5,"x":13.75,"n":1},
{"k":6,"x":0,"n":1},{"k":6,"x":0.25,"n":2},{"k":6,"x":0.5,"n":4},{"k":6,"x":0.75,"n":6},{"k":6,"x":1,"n":18},{"k":6,"x":1.25,"n":26},{"k":6,"x":1.5,"n":33},{"k":6,"x":1.75,"n":50},{"k":6,"x":2,"n":58},{"k":6,"x":2.25,"n":90},{"k":6,"x":2.5,"n":128},{"k":6,"x":2.75,"n":160},{"k":6,"x":3,"n":182},{"k":6,"x":3.25,"n":185},{"k":6,"x":3.5,"n":180},{"k":6,"x":3.75,"n":165},{"k":6,"x":4,"n":140},{"k":6,"x":4.25,"n":120},{"k":6,"x":4.5,"n":88},{"k":6,"x":4.75,"n":75},{"k":6,"x":5,"n":70},{"k":6,"x":5.25,"n":68},{"k":6,"x":5.5,"n":68},{"k":6,"x":5.75,"n":67},{"k":6,"x":6,"n":66},{"k":6,"x":6.25,"n":64},{"k":6,"x":6.5,"n":62},{"k":6,"x":6.75,"n":58},{"k":6,"x":7,"n":52},{"k":6,"x":7.25,"n":48},{"k":6,"x":7.5,"n":45},{"k":6,"x":7.75,"n":42},{"k":6,"x":8,"n":38},{"k":6,"x":8.25,"n":35},{"k":6,"x":8.5,"n":31},{"k":6,"x":8.75,"n":27},{"k":6,"x":9,"n":24},{"k":6,"x":9.25,"n":21},{"k":6,"x":9.5,"n":18},{"k":6,"x":9.75,"n":15},{"k":6,"x":10,"n":12},{"k":6,"x":10.25,"n":10},{"k":6,"x":10.5,"n":9},{"k":6,"x":10.75,"n":8},{"k":6,"x":11,"n":7},{"k":6,"x":11.25,"n":6},{"k":6,"x":11.5,"n":5},{"k":6,"x":11.75,"n":5},{"k":6,"x":12,"n":4},{"k":6,"x":12.25,"n":4},{"k":6,"x":12.5,"n":3},{"k":6,"x":12.75,"n":3},{"k":6,"x":13,"n":2},{"k":6,"x":13.25,"n":2},{"k":6,"x":13.5,"n":1},{"k":6,"x":13.75,"n":1},
{"k":7,"x":0,"n":1},{"k":7,"x":0.25,"n":2},{"k":7,"x":0.5,"n":4},{"k":7,"x":0.75,"n":6},{"k":7,"x":1,"n":18},{"k":7,"x":1.25,"n":30},{"k":7,"x":1.5,"n":42},{"k":7,"x":1.75,"n":50},{"k":7,"x":2,"n":68},{"k":7,"x":2.25,"n":90},{"k":7,"x":2.5,"n":115},{"k":7,"x":2.75,"n":168},{"k":7,"x":3,"n":176},{"k":7,"x":3.25,"n":178},{"k":7,"x":3.5,"n":172},{"k":7,"x":3.75,"n":150},{"k":7,"x":4,"n":122},{"k":7,"x":4.25,"n":95},{"k":7,"x":4.5,"n":80},{"k":7,"x":4.75,"n":70},{"k":7,"x":5,"n":64},{"k":7,"x":5.25,"n":62},{"k":7,"x":5.5,"n":60},{"k":7,"x":5.75,"n":60},{"k":7,"x":6,"n":62},{"k":7,"x":6.25,"n":62},{"k":7,"x":6.5,"n":64},{"k":7,"x":6.75,"n":66},{"k":7,"x":7,"n":62},{"k":7,"x":7.25,"n":56},{"k":7,"x":7.5,"n":52},{"k":7,"x":7.75,"n":48},{"k":7,"x":8,"n":44},{"k":7,"x":8.25,"n":40},{"k":7,"x":8.5,"n":36},{"k":7,"x":8.75,"n":32},{"k":7,"x":9,"n":28},{"k":7,"x":9.25,"n":25},{"k":7,"x":9.5,"n":22},{"k":7,"x":9.75,"n":19},{"k":7,"x":10,"n":16},{"k":7,"x":10.25,"n":13},{"k":7,"x":10.5,"n":11},{"k":7,"x":10.75,"n":9},{"k":7,"x":11,"n":8},{"k":7,"x":11.25,"n":7},{"k":7,"x":11.5,"n":6},{"k":7,"x":11.75,"n":6},{"k":7,"x":12,"n":5},{"k":7,"x":12.25,"n":5},{"k":7,"x":12.5,"n":4},{"k":7,"x":12.75,"n":3},{"k":7,"x":13,"n":3},{"k":7,"x":13.25,"n":2},{"k":7,"x":13.5,"n":2},{"k":7,"x":13.75,"n":1},
{"k":8,"x":0,"n":1},{"k":8,"x":0.25,"n":2},{"k":8,"x":0.5,"n":4},{"k":8,"x":0.75,"n":6},{"k":8,"x":1,"n":18},{"k":8,"x":1.25,"n":26},{"k":8,"x":1.5,"n":43},{"k":8,"x":1.75,"n":58},{"k":8,"x":2,"n":77},{"k":8,"x":2.25,"n":100},{"k":8,"x":2.5,"n":130},{"k":8,"x":2.75,"n":175},{"k":8,"x":3,"n":182},{"k":8,"x":3.25,"n":185},{"k":8,"x":3.5,"n":178},{"k":8,"x":3.75,"n":150},{"k":8,"x":4,"n":120},{"k":8,"x":4.25,"n":100},{"k":8,"x":4.5,"n":80},{"k":8,"x":4.75,"n":72},{"k":8,"x":5,"n":68},{"k":8,"x":5.25,"n":66},{"k":8,"x":5.5,"n":68},{"k":8,"x":5.75,"n":68},{"k":8,"x":6,"n":66},{"k":8,"x":6.25,"n":64},{"k":8,"x":6.5,"n":62},{"k":8,"x":6.75,"n":60},{"k":8,"x":7,"n":58},{"k":8,"x":7.25,"n":55},{"k":8,"x":7.5,"n":50},{"k":8,"x":7.75,"n":46},{"k":8,"x":8,"n":42},{"k":8,"x":8.25,"n":38},{"k":8,"x":8.5,"n":34},{"k":8,"x":8.75,"n":30},{"k":8,"x":9,"n":28},{"k":8,"x":9.25,"n":22},{"k":8,"x":9.5,"n":18},{"k":8,"x":9.75,"n":15},{"k":8,"x":10,"n":13},{"k":8,"x":10.25,"n":11},{"k":8,"x":10.5,"n":9},{"k":8,"x":10.75,"n":8},{"k":8,"x":11,"n":7},{"k":8,"x":11.25,"n":6},{"k":8,"x":11.5,"n":6},{"k":8,"x":11.75,"n":5},{"k":8,"x":12,"n":5},{"k":8,"x":12.25,"n":4},{"k":8,"x":12.5,"n":4},{"k":8,"x":12.75,"n":3},{"k":8,"x":13,"n":3},{"k":8,"x":13.25,"n":2},{"k":8,"x":13.5,"n":2},{"k":8,"x":13.75,"n":1},
{"k":9,"x":0,"n":2},{"k":9,"x":0.25,"n":4},{"k":9,"x":0.5,"n":6},{"k":9,"x":0.75,"n":8},{"k":9,"x":1,"n":23},{"k":9,"x":1.25,"n":32},{"k":9,"x":1.5,"n":42},{"k":9,"x":1.75,"n":53},{"k":9,"x":2,"n":67},{"k":9,"x":2.25,"n":100},{"k":9,"x":2.5,"n":135},{"k":9,"x":2.75,"n":172},{"k":9,"x":3,"n":182},{"k":9,"x":3.25,"n":188},{"k":9,"x":3.5,"n":180},{"k":9,"x":3.75,"n":170},{"k":9,"x":4,"n":125},{"k":9,"x":4.25,"n":100},{"k":9,"x":4.5,"n":80},{"k":9,"x":4.75,"n":74},{"k":9,"x":5,"n":70},{"k":9,"x":5.25,"n":68},{"k":9,"x":5.5,"n":66},{"k":9,"x":5.75,"n":68},{"k":9,"x":6,"n":72},{"k":9,"x":6.25,"n":66},{"k":9,"x":6.5,"n":64},{"k":9,"x":6.75,"n":62},{"k":9,"x":7,"n":60},{"k":9,"x":7.25,"n":57},{"k":9,"x":7.5,"n":54},{"k":9,"x":7.75,"n":50},{"k":9,"x":8,"n":45},{"k":9,"x":8.25,"n":40},{"k":9,"x":8.5,"n":35},{"k":9,"x":8.75,"n":30},{"k":9,"x":9,"n":27},{"k":9,"x":9.25,"n":24},{"k":9,"x":9.5,"n":21},{"k":9,"x":9.75,"n":18},{"k":9,"x":10,"n":15},{"k":9,"x":10.25,"n":12},{"k":9,"x":10.5,"n":11},{"k":9,"x":10.75,"n":9},{"k":9,"x":11,"n":8},{"k":9,"x":11.25,"n":7},{"k":9,"x":11.5,"n":6},{"k":9,"x":11.75,"n":5},{"k":9,"x":12,"n":5},{"k":9,"x":12.25,"n":4},{"k":9,"x":12.5,"n":3},{"k":9,"x":12.75,"n":3},{"k":9,"x":13,"n":2},{"k":9,"x":13.25,"n":2},{"k":9,"x":13.5,"n":1},{"k":9,"x":13.75,"n":1}
]},
"data":{"name":"h"},
"transform":[{"lookup":"k","from":{"data":{"name":"samples"},"key":"k","fields":["s","g"]}}],
"spacing":5.5,
"resolve":{"scale":{"color":"shared"},"legend":{"color":"shared"}},
"hconcat":[
{"title":{"text":"count","orient":"left","anchor":"middle","fontSize":14.7,"fontWeight":"normal","color":"#000000","font":"Liberation Sans","offset":4},
"transform":[{"filter":{"field":"s","oneOf":["CLL11.CEL","CLL12.CEL","CLL13.CEL","CLL14.CEL","CLL17.CEL","CLL18.CEL","CLL19.CEL","CLL20.CEL","CLL23.CEL","CLL24.CEL","CLL2.CEL","CLL3.CEL","CLL6.CEL","CLL7.CEL","CLL8.CEL","CLL9.CEL"]}}],
"facet":{"field":"s","type":"nominal","sort":["CLL11.CEL","CLL12.CEL","CLL13.CEL","CLL14.CEL","CLL17.CEL","CLL18.CEL","CLL19.CEL","CLL20.CEL","CLL23.CEL","CLL24.CEL","CLL2.CEL","CLL3.CEL","CLL6.CEL","CLL7.CEL","CLL8.CEL","CLL9.CEL"],"header":{"title":null,"labelOrient":"top","labelPadding":-24,"labelBaseline":"middle","labelFontSize":12,"labelColor":"#1A1A1A","labelFont":"Liberation Sans"}},
"columns":4,
"spacing":{"row":9,"column":8.5},
"spec":{
"width":221,"height":180,
"layer":[
{"mark":{"type":"bar","binSpacing":0},
"encoding":{
"x":{"field":"x","type":"quantitative","bin":{"step":0.25,"extent":[0,14]},"scale":{"domain":[-1.1,15.25],"nice":false,"zero":false},
"axis":{"title":null,"values":[0,2.5,5,7.5,10,12.5,15],"domain":false,"grid":true,"gridColor":"#FFFFFF","gridWidth":{"condition":{"test":"datum.value % 5 === 0","value":1.4},"value":0.7},"tickOpacity":{"condition":{"test":"datum.value % 5 === 0","value":1},"value":0},"labelExpr":"datum.value % 5 === 0 ? format(datum.value, 'd') : ''","tickColor":"#333333","tickSize":3.7,"tickWidth":1,"labelColor":"#4D4D4D","labelFontSize":11.7,"labelFont":"Liberation Sans","labelPadding":3.5,"labelFlush":false,"labelOverlap":false,"labelBound":false}},
"y":{"aggregate":"sum","field":"n","type":"quantitative","scale":{"domain":[-10.6,255.1],"nice":false,"zero":false},
"axis":{"title":null,"values":[0,25,50,75,100,125,150,175,200],"domain":false,"grid":true,"gridColor":"#FFFFFF","gridWidth":{"condition":{"test":"datum.value % 50 === 0","value":1.4},"value":0.7},"tickOpacity":{"condition":{"test":"datum.value % 50 === 0","value":1},"value":0},"labelExpr":"datum.value % 50 === 0 ? format(datum.value, 'd') : ''","tickColor":"#333333","tickSize":3.7,"tickWidth":1,"labelColor":"#4D4D4D","labelFontSize":11.7,"labelFont":"Liberation Sans","labelPadding":4.5,"labelOverlap":false,"labelBound":false,"labelFlush":false}},
"color":{"field":"g","type":"nominal","scale":{"domain":["progres.","stable"],"range":["#F8766D","#00BFC4"]},
"legend":{"title":"group","orient":"none","legendX":1392,"legendY":354,"symbolType":"square","symbolSize":484,"symbolStrokeWidth":0,"rowPadding":1.5,"labelOffset":8,"titleFontSize":14.7,"titleFontWeight":"normal","titleColor":"#000000","titleFont":"Liberation Sans","labelFontSize":11.7,"labelColor":"#000000","labelFont":"Liberation Sans","titlePadding":6,"padding":0}}
}},
{"transform":[{"aggregate":[{"op":"count","as":"c"}],"groupby":["s"]}],
"mark":{"type":"rect","fill":"#D9D9D9"},
"encoding":{"x":{"value":0},"x2":{"value":"width"},"y":{"datum":222.6},"y2":{"datum":255.1}}}
]}},
{"transform":[{"filter":{"field":"s","oneOf":["CLL15.CEL","CLL16.CEL","CLL21.CEL","CLL22.CEL","CLL4.CEL","CLL5.CEL"]}}],
"facet":{"field":"s","type":"nominal","sort":["CLL15.CEL","CLL16.CEL","CLL21.CEL","CLL22.CEL","CLL4.CEL","CLL5.CEL"],"header":{"title":null,"labelOrient":"top","labelPadding":-24,"labelBaseline":"middle","labelFontSize":12,"labelColor":"#1A1A1A","labelFont":"Liberation Sans"}},
"columns":2,
"spacing":{"row":9,"column":8.5},
"spec":{
"width":221,"height":180,
"layer":[
{"mark":{"type":"bar","binSpacing":0},
"encoding":{
"x":{"field":"x","type":"quantitative","bin":{"step":0.25,"extent":[0,14]},"scale":{"domain":[-1.1,15.25],"nice":false,"zero":false},
"axis":{"title":null,"values":[0,2.5,5,7.5,10,12.5,15],"domain":false,"grid":true,"gridColor":"#FFFFFF","gridWidth":{"condition":{"test":"datum.value % 5 === 0","value":1.4},"value":0.7},"tickOpacity":{"condition":{"test":"datum.value % 5 === 0","value":1},"value":0},"labelExpr":"datum.value % 5 === 0 ? format(datum.value, 'd') : ''","tickColor":"#333333","tickSize":3.7,"tickWidth":1,"labelColor":"#4D4D4D","labelFontSize":11.7,"labelFont":"Liberation Sans","labelPadding":3.5,"labelFlush":false,"labelOverlap":false,"labelBound":false}},
"y":{"aggregate":"sum","field":"n","type":"quantitative","scale":{"domain":[-10.6,255.1],"nice":false,"zero":false},
"axis":{"title":null,"values":[0,25,50,75,100,125,150,175,200],"domain":false,"grid":true,"gridColor":"#FFFFFF","gridWidth":{"condition":{"test":"datum.value % 50 === 0","value":1.4},"value":0.7},"labels":false,"ticks":false}},
"color":{"field":"g","type":"nominal","scale":{"domain":["progres.","stable"],"range":["#F8766D","#00BFC4"]},
"legend":{"title":"group","orient":"none","legendX":1392,"legendY":354,"symbolType":"square","symbolSize":484,"symbolStrokeWidth":0,"rowPadding":1.5,"labelOffset":8,"titleFontSize":14.7,"titleFontWeight":"normal","titleColor":"#000000","titleFont":"Liberation Sans","labelFontSize":11.7,"labelColor":"#000000","labelFont":"Liberation Sans","titlePadding":6,"padding":0}}
}},
{"transform":[{"aggregate":[{"op":"count","as":"c"}],"groupby":["s"]}],
"mark":{"type":"rect","fill":"#D9D9D9"},
"encoding":{"x":{"value":0},"x2":{"value":"width"},"y":{"datum":222.6},"y2":{"datum":255.1}}}
]}}
],
"config":{"font":"Liberation Sans","view":{"fill":"#EBEBEB","stroke":null}}
}
